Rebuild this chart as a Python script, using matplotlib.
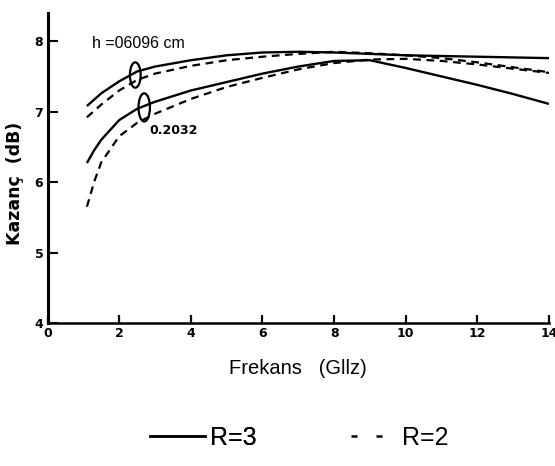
import matplotlib
matplotlib.use("Agg")
import matplotlib.pyplot as plt
from matplotlib.lines import Line2D
from matplotlib.patches import Ellipse

# Frequencies (GHz)
freq = [1.1, 1.3, 1.5, 2.0, 2.5, 3.0, 4.0, 5.0, 6.0, 7.0, 8.0, 9.0, 10.0, 11.0, 12.0, 13.0, 14.0]

# h = 0.06096 cm
gain_h1_R3 = [7.08, 7.17, 7.26, 7.43, 7.57, 7.64, 7.73, 7.80, 7.84, 7.85, 7.84, 7.82, 7.80, 7.79, 7.78, 7.77, 7.76]
gain_h1_R2 = [6.92, 7.01, 7.10, 7.30, 7.45, 7.54, 7.65, 7.73, 7.78, 7.82, 7.85, 7.83, 7.80, 7.76, 7.70, 7.63, 7.56]
# h = 0.2032 cm
gain_h2_R3 = [6.27, 6.45, 6.60, 6.88, 7.04, 7.14, 7.30, 7.42, 7.54, 7.64, 7.72, 7.73, 7.62, 7.50, 7.38, 7.25, 7.11]
gain_h2_R2 = [5.65, 6.00, 6.28, 6.65, 6.84, 6.97, 7.18, 7.35, 7.48, 7.60, 7.69, 7.74, 7.75, 7.72, 7.67, 7.61, 7.55]

xticks = [0, 2, 4, 6, 8, 10, 12, 14]
yticks = [4, 5, 6, 7, 8]

fig = plt.figure(figsize=(5.55, 4.66), dpi=100)
ax = fig.add_axes([0.0856, 0.307, 0.9036, 0.665])

dash = (0, (3.5, 2.5))
ax.plot(freq, gain_h1_R3, color="black", lw=1.7, solid_capstyle="butt")
ax.plot(freq, gain_h1_R2, color="black", lw=1.6, linestyle=dash)
ax.plot(freq, gain_h2_R3, color="black", lw=1.7, solid_capstyle="butt")
ax.plot(freq, gain_h2_R2, color="black", lw=1.6, linestyle=dash)

ax.set_xlim(0, 14)
ax.set_ylim(4, 8.40)
ax.spines["top"].set_visible(False)
ax.spines["right"].set_visible(False)
ax.spines["left"].set_linewidth(2.2)
ax.spines["bottom"].set_linewidth(1.8)

ax.set_xticks(xticks)
ax.set_yticks(yticks)
ax.set_xticklabels([str(t) for t in xticks], fontsize=9, fontweight="bold", family="DejaVu Sans")
ax.set_yticklabels([str(t) for t in yticks], fontsize=9, fontweight="bold", family="DejaVu Sans")
ax.tick_params(axis="x", direction="in", length=6, width=1.6, pad=3)
ax.tick_params(axis="y", direction="in", length=7, width=1.5, pad=3)

ax.set_xlabel("Frekans   (Gllz)", fontsize=14.5, family="Liberation Sans")
ax.xaxis.set_label_coords(0.5, -0.115)
ax.set_ylabel("Kazanç  (dB)", fontsize=12.5, fontweight="bold", family="DejaVu Sans")
ax.yaxis.set_label_coords(-0.046, 0.45)

# annotations
ax.annotate("h =06096 cm", xy=(1.25, 7.9), fontsize=11.5, family="Liberation Sans")
ax.annotate("0.2032", xy=(2.85, 6.68), fontsize=9, fontweight="bold", family="DejaVu Sans")
ax.add_patch(Ellipse((2.45, 7.52), 0.30, 0.36, fill=False, lw=1.6, color="black"))
ax.add_patch(Ellipse((2.7, 7.06), 0.32, 0.40, fill=False, lw=1.6, color="black"))

leg1 = fig.legend([Line2D([], [], color="black", lw=1.8)], ["R=3"],
                  loc="center left", bbox_to_anchor=(150 / 555, 0.06),
                  frameon=False, handlelength=2.2, handletextpad=0.2,
                  borderpad=0, borderaxespad=0,
                  prop={"family": "Liberation Sans", "size": 18})
fig.add_artist(leg1)
fig.legend([Line2D([], [], color="black", lw=1.8, linestyle=(0, (2.4, 7.6)))], ["R=2"],
           loc="center left", bbox_to_anchor=(351 / 555, 0.06),
           frameon=False, handlelength=1.25, handletextpad=0.8,
           borderpad=0, borderaxespad=0,
           prop={"family": "Liberation Sans", "size": 18})

fig.savefig("out.png", dpi=100)
